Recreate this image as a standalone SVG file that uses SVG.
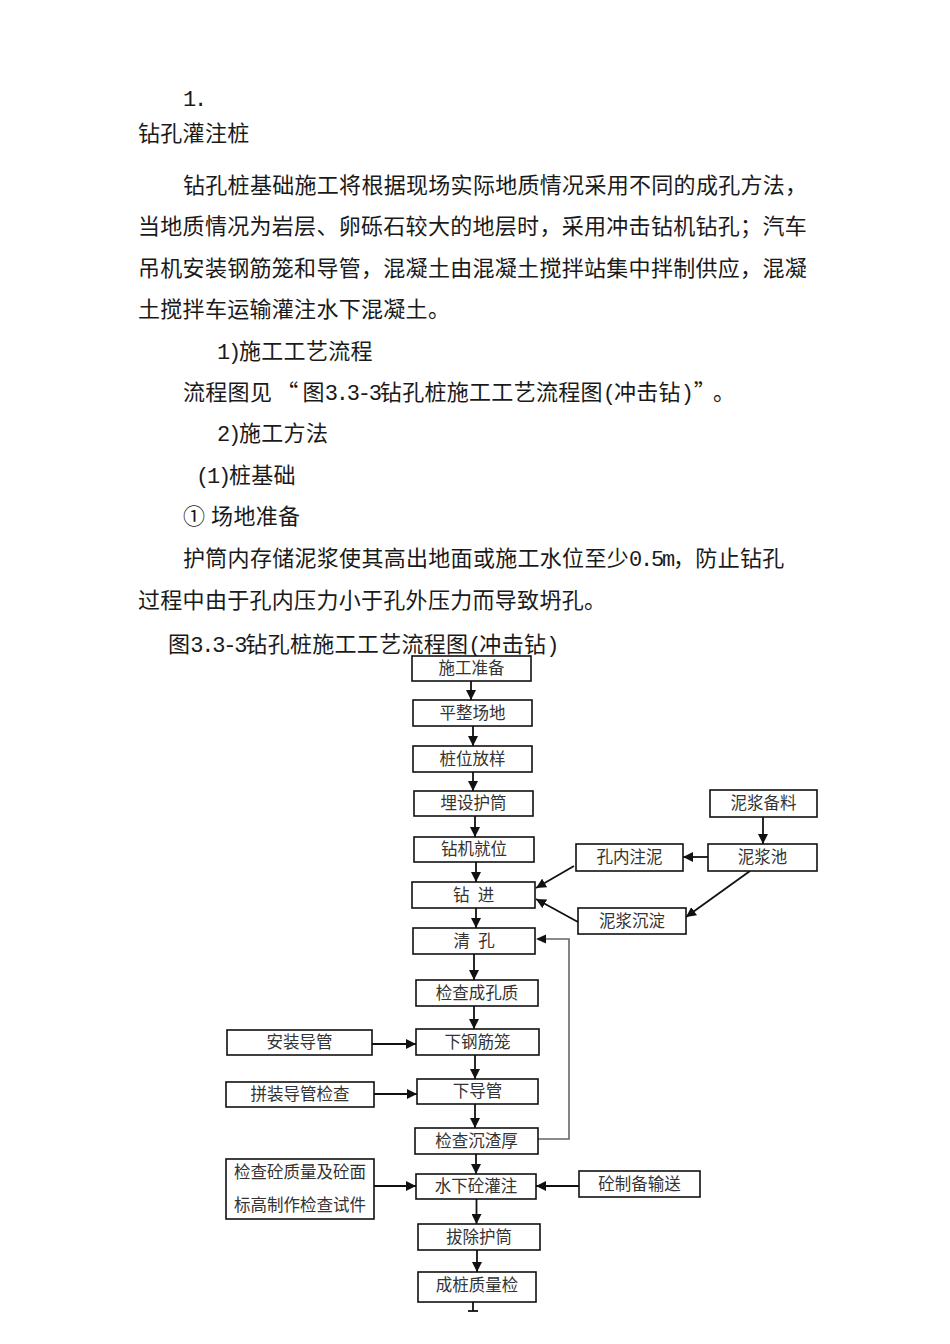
<svg xmlns="http://www.w3.org/2000/svg" width="950" height="1344" viewBox="0 0 950 1344">
<style>
.body{font-family:"Liberation Serif","Noto Sans CJK SC",sans-serif;font-size:22px;fill:#1a1a1a;letter-spacing:0.3px}
.m{font-family:"Liberation Mono",monospace;font-size:22px;letter-spacing:-2.2px}
.q{font-family:"Noto Sans CJK SC",sans-serif}
.box{fill:#fff;stroke:#111;stroke-width:1.6}
.lbl{font-family:"Liberation Serif","Noto Sans CJK SC",sans-serif;font-size:16.5px;fill:#333;text-anchor:middle;dominant-baseline:central}
.ln{stroke:#111;stroke-width:1.8;fill:none}
.gl{stroke:#666;stroke-width:1.6;fill:none}
</style>
<defs>
<marker id="ah" markerUnits="userSpaceOnUse" markerWidth="10" markerHeight="10" refX="10" refY="5" orient="auto">
<path d="M0,0 L10,5 L0,10 z" fill="#111"/>
</marker>
</defs>
<rect width="950" height="1344" fill="#fff"/>
<g id="text">
<text class="body" x="183" y="106"><tspan class="m">1.</tspan></text>
<text class="body" x="138" y="141">钻孔灌注桩</text>
<text class="body" x="183" y="193">钻孔桩基础施工将根据现场实际地质情况采用不同的成孔方法，</text>
<text class="body" x="138" y="234">当地质情况为岩层、卵砾石较大的地层时，采用冲击钻机钻孔；汽车</text>
<text class="body" x="138" y="276">吊机安装钢筋笼和导管，混凝土由混凝土搅拌站集中拌制供应，混凝</text>
<text class="body" x="138" y="317">土搅拌车运输灌注水下混凝土。</text>
<text class="body" x="217" y="359"><tspan class="m">1)</tspan>施工工艺流程</text>
<text class="body" x="183" y="400">流程图见<tspan class="q" dx="4">“</tspan><tspan dx="4">图</tspan><tspan class="m">3.3-3</tspan>钻孔桩施工工艺流程图<tspan class="m">(</tspan>冲击钻<tspan class="m">)</tspan><tspan class="q" dx="2">”</tspan><tspan dx="8">。</tspan></text>
<text class="body" x="217" y="441"><tspan class="m">2)</tspan>施工方法</text>
<text class="body" x="196" y="483"><tspan class="m">(1)</tspan>桩基础</text>
<text class="body" x="183" y="524">① 场地准备</text>
<text class="body" x="183" y="566">护筒内存储泥浆使其高出地面或施工水位至少<tspan class="m">0.5m</tspan>，防止钻孔</text>
<text class="body" x="138" y="608">过程中由于孔内压力小于孔外压力而导致坍孔。</text>
<text class="body" x="168" y="652">图<tspan class="m">3.3-3</tspan>钻孔桩施工工艺流程图<tspan class="m">(</tspan>冲击钻<tspan class="m">)</tspan></text>
</g>
<g id="connectors">
<line class="ln" x1="471" y1="681" x2="471" y2="700" marker-end="url(#ah)"/>
<line class="ln" x1="473" y1="726" x2="473" y2="746" marker-end="url(#ah)"/>
<line class="ln" x1="473" y1="772" x2="473" y2="791" marker-end="url(#ah)"/>
<line class="ln" x1="475" y1="816" x2="475" y2="837" marker-end="url(#ah)"/>
<line class="ln" x1="476" y1="862" x2="476" y2="882" marker-end="url(#ah)"/>
<line class="ln" x1="476" y1="908" x2="476" y2="928" marker-end="url(#ah)"/>
<line class="ln" x1="474" y1="954" x2="474" y2="980" marker-end="url(#ah)"/>
<line class="ln" x1="474" y1="1006" x2="474" y2="1029" marker-end="url(#ah)"/>
<line class="ln" x1="475" y1="1055" x2="475" y2="1079" marker-end="url(#ah)"/>
<line class="ln" x1="475" y1="1104" x2="475" y2="1128" marker-end="url(#ah)"/>
<line class="ln" x1="476" y1="1154" x2="476" y2="1174" marker-end="url(#ah)"/>
<line class="ln" x1="476.5" y1="1199" x2="476.5" y2="1224" marker-end="url(#ah)"/>
<line class="ln" x1="477" y1="1250" x2="477" y2="1272" marker-end="url(#ah)"/>
<line class="ln" x1="473" y1="1302" x2="473" y2="1311"/>
<line class="ln" x1="468" y1="1311" x2="478" y2="1311"/>
<line class="ln" x1="763" y1="817" x2="763" y2="844" marker-end="url(#ah)"/>
<line class="ln" x1="708" y1="857" x2="683" y2="857" marker-end="url(#ah)"/>
<line class="ln" x1="574" y1="866" x2="536" y2="888" marker-end="url(#ah)"/>
<line class="ln" x1="750" y1="871" x2="686" y2="917" marker-end="url(#ah)"/>
<line class="ln" x1="578" y1="922" x2="536" y2="899" marker-end="url(#ah)"/>
<polyline class="gl" points="538,1139 569,1139 569,939 546,939"/>
<path d="M536,939 L546,934.5 L546,943.5 z" fill="#111"/>
<line class="ln" x1="372" y1="1044" x2="416" y2="1044" marker-end="url(#ah)"/>
<line class="ln" x1="374" y1="1094" x2="417" y2="1094" marker-end="url(#ah)"/>
<line class="ln" x1="374" y1="1186" x2="416" y2="1186" marker-end="url(#ah)"/>
<line class="ln" x1="579" y1="1186" x2="536" y2="1186" marker-end="url(#ah)"/>
</g>
<g id="n1"><rect class="box" x="412" y="656" width="119" height="25"/><text class="lbl" x="471.5" y="668.5">施工准备</text></g>
<g id="n2"><rect class="box" x="413" y="700" width="119" height="26"/><text class="lbl" x="472.5" y="713">平整场地</text></g>
<g id="n3"><rect class="box" x="413" y="746" width="119" height="26"/><text class="lbl" x="472.5" y="759">桩位放样</text></g>
<g id="n4"><rect class="box" x="414" y="791" width="119" height="25"/><text class="lbl" x="473.5" y="803.5">埋设护筒</text></g>
<g id="n5"><rect class="box" x="414" y="837" width="120" height="25"/><text class="lbl" x="474" y="849.5">钻机就位</text></g>
<g id="n6"><rect class="box" x="412" y="882" width="123" height="26"/><text class="lbl" x="473.5" y="895" xml:space="preserve">钻  进</text></g>
<g id="n7"><rect class="box" x="413" y="928" width="122" height="26"/><text class="lbl" x="474" y="941" xml:space="preserve">清  孔</text></g>
<g id="n8"><rect class="box" x="416" y="980" width="122" height="26"/><text class="lbl" x="477" y="993">检查成孔质</text></g>
<g id="n9"><rect class="box" x="416" y="1029" width="123" height="26"/><text class="lbl" x="477.5" y="1042">下钢筋笼</text></g>
<g id="n10"><rect class="box" x="417" y="1079" width="121" height="25"/><text class="lbl" x="477.5" y="1091.5">下导管</text></g>
<g id="n11"><rect class="box" x="415" y="1128" width="123" height="26"/><text class="lbl" x="476.5" y="1141">检查沉渣厚</text></g>
<g id="n12"><rect class="box" x="416" y="1174" width="120" height="25"/><text class="lbl" x="476" y="1186.5">水下砼灌注</text></g>
<g id="n13"><rect class="box" x="418" y="1224" width="122" height="26"/><text class="lbl" x="479" y="1237">拔除护筒</text></g>
<g id="n14"><rect class="box" x="418" y="1272" width="118" height="30"/><text class="lbl" x="477" y="1285">成桩质量检</text></g>
<g id="n15"><rect class="box" x="710" y="790" width="107" height="27"/><text class="lbl" x="763.5" y="803.5">泥浆备料</text></g>
<g id="n16"><rect class="box" x="708" y="844" width="109" height="27"/><text class="lbl" x="762.5" y="857.5">泥浆池</text></g>
<g id="n17"><rect class="box" x="576" y="844" width="107" height="27"/><text class="lbl" x="629.5" y="857.5">孔内注泥</text></g>
<g id="n18"><rect class="box" x="578" y="908" width="108" height="26"/><text class="lbl" x="632" y="921">泥浆沉淀</text></g>
<g id="n19"><rect class="box" x="227" y="1030" width="145" height="25"/><text class="lbl" x="299.5" y="1042.5">安装导管</text></g>
<g id="n20"><rect class="box" x="226" y="1082" width="148" height="25"/><text class="lbl" x="300" y="1094.5">拼装导管检查</text></g>
<g id="n21"><rect class="box" x="226" y="1159" width="148" height="60"/><text class="lbl" x="300" y="1172">检查砼质量及砼面</text><text class="lbl" x="300" y="1205">标高制作检查试件</text></g>
<g id="n22"><rect class="box" x="579" y="1171" width="121" height="26"/><text class="lbl" x="639.5" y="1184">砼制备输送</text></g>
</svg>
